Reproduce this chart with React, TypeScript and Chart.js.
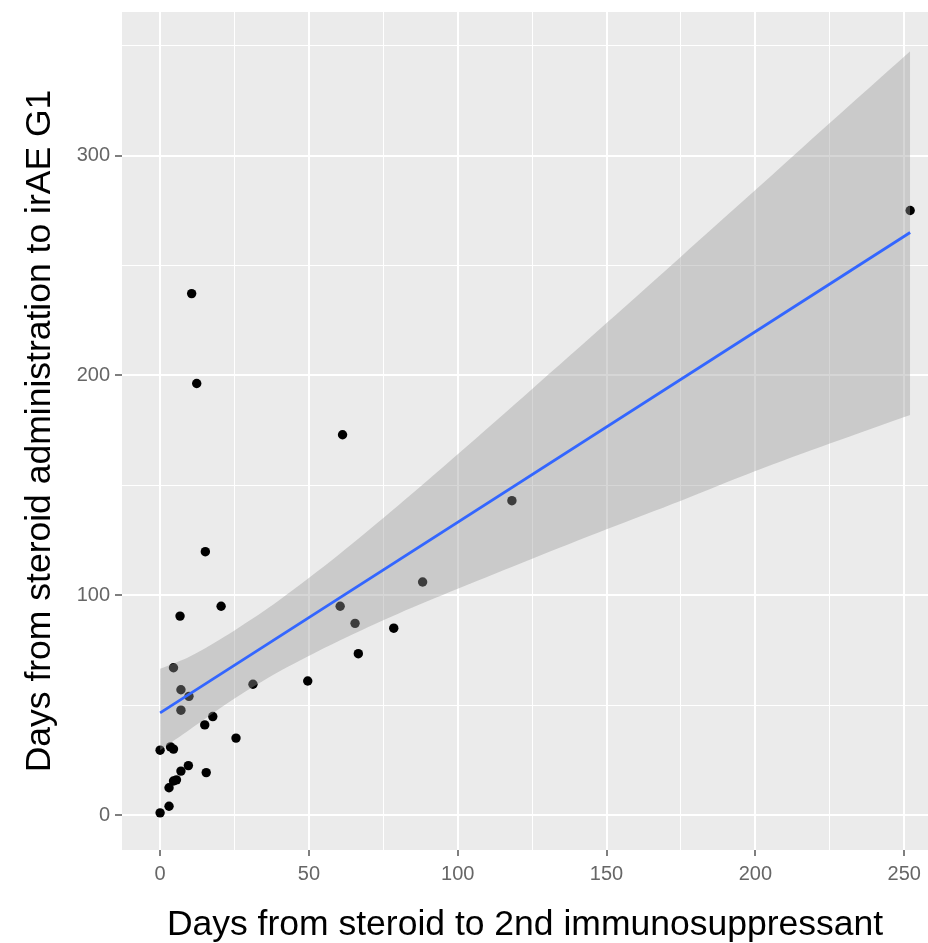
import React, { useEffect, useRef } from "react";
import { Chart, registerables } from "chart.js";

Chart.register(...registerables);

// Scatter points (days from steroid to 2nd immunosuppressant, days to irAE G1)
const pointX = [0, 3, 3, 4.5, 5.5, 7, 9.5, 15.5, 0, 3.5, 4.5, 7, 7, 9.7, 4.5, 15, 17.7, 25.5, 31.2, 49.6, 6.7, 20.5, 15.2, 60.5, 65.5, 66.6, 78.5, 88.2, 118.2, 61.3, 10.6, 12.3, 252];
const pointY = [1, 4, 12.4, 15.5, 16, 20, 22.5, 19.3, 29.5, 31, 30, 47.7, 57, 54, 67, 41, 44.8, 35, 59.5, 61, 90.5, 95, 119.8, 95, 87.2, 73.4, 85, 106, 143, 173, 237.2, 196.3, 275];

// Linear fit
const fitX = [0, 252];
const fitY = [46.5, 265];

// Confidence band
const bandX = [0, 10, 25, 40, 60, 80, 100, 125, 150, 175, 200, 225, 252];
const bandLower = [29.5, 38.9, 53, 65.3, 79.2, 91.6, 102.9, 116.6, 130, 143, 156.5, 169, 182];
const bandUpper = [66.5, 72.1, 84, 97.7, 118.4, 140.8, 164.1, 193.8, 223.8, 254, 284.3, 314.8, 347.5];

// Axes
const xMin = -12.8;
const xMax = 258;
const yMin = -15.9;
const yMax = 365.3;
const xStep = 25;
const xLabelEvery = 50;
const yStep = 50;
const yLabelEvery = 100;

const xTitle = "Days from steroid to 2nd immunosuppressant";
const yTitle = "Days from steroid administration to irAE G1";

const FONT = "'Liberation Sans', Arial, sans-serif";

const panelBg = {
  id: "panelBg",
  beforeDraw(chart: any) {
    const { ctx, chartArea } = chart;
    if (!chartArea) return;
    ctx.save();
    ctx.fillStyle = "#EBEBEB";
    ctx.fillRect(chartArea.left, chartArea.top, chartArea.right - chartArea.left, chartArea.bottom - chartArea.top);
    ctx.restore();
  },
};

const clearPadding = (s: any) => {
  s.paddingTop = 0;
  s.paddingBottom = 0;
  s.paddingLeft = 0;
  s.paddingRight = 0;
};

export default function App() {
  const ref = useRef<HTMLCanvasElement | null>(null);

  useEffect(() => {
    if (!ref.current) return;
    const zip = (xs: number[], ys: number[]) => xs.map((x, i) => ({ x, y: ys[i] }));
    const chart = new Chart(ref.current, {
      type: "scatter",
      data: {
        datasets: [
          {
            label: "fit",
            data: zip(fitX, fitY),
            showLine: true,
            borderColor: "#3366FF",
            borderWidth: 2.8,
            pointRadius: 0,
            fill: false,
            order: 0,
          } as any,
          {
            label: "lower",
            data: zip(bandX, bandLower),
            showLine: true,
            borderColor: "rgba(0,0,0,0)",
            borderWidth: 0,
            pointRadius: 0,
            fill: false,
            tension: 0.3,
            order: 1,
          } as any,
          {
            label: "upper",
            data: zip(bandX, bandUpper),
            showLine: true,
            borderColor: "rgba(0,0,0,0)",
            borderWidth: 0,
            pointRadius: 0,
            backgroundColor: "rgba(153,153,153,0.4)",
            fill: 1,
            tension: 0.3,
            order: 1,
          } as any,
          {
            label: "points",
            data: zip(pointX, pointY),
            backgroundColor: "#000000",
            borderWidth: 0,
            pointRadius: 4.7,
            order: 2,
          } as any,
        ],
      },
      options: {
        responsive: false,
        maintainAspectRatio: false,
        animation: false,
        layout: { autoPadding: false, padding: { top: 12, left: 0, right: 0, bottom: 0 } },
        plugins: {
          legend: { display: false },
          tooltip: { enabled: false },
          filler: { propagate: false },
        },
        scales: {
          x: {
            type: "linear",
            min: xMin,
            max: xMax,
            border: { display: false },
            grid: {
              color: "#FFFFFF",
              lineWidth: (c: any) => (c.tick && c.tick.value % xLabelEvery === 0 ? 2 : 1),
              tickColor: (c: any) => (c.tick && c.tick.value % xLabelEvery === 0 ? "#555555" : "rgba(0,0,0,0)"),
              tickLength: 6,
              tickWidth: 1.5,
              drawTicks: true,
            },
            ticks: {
              stepSize: xStep,
              includeBounds: false,
              autoSkip: false,
              maxRotation: 0,
              color: "#666666",
              padding: 6,
              font: { size: 20, family: FONT },
              callback: (v: any) => (Number(v) % xLabelEvery === 0 ? String(v) : ""),
            },
            title: {
              display: true,
              text: xTitle,
              color: "#000000",
              font: { size: 35.5, family: FONT, lineHeight: 1 },
              padding: { top: 0, bottom: 0 },
            },
            afterFit: (s: any) => {
              s.height = 93;
              clearPadding(s);
            },
          } as any,
          y: {
            type: "linear",
            min: yMin,
            max: yMax,
            border: { display: false },
            grid: {
              color: "#FFFFFF",
              lineWidth: (c: any) => (c.tick && c.tick.value % yLabelEvery === 0 ? 2 : 1),
              tickColor: (c: any) => (c.tick && c.tick.value % yLabelEvery === 0 ? "#555555" : "rgba(0,0,0,0)"),
              tickLength: 7,
              tickWidth: 1.5,
              drawTicks: true,
            },
            ticks: {
              stepSize: yStep,
              includeBounds: false,
              autoSkip: false,
              color: "#666666",
              padding: 5,
              font: { size: 20, family: FONT },
              callback: (v: any) => (Number(v) % yLabelEvery === 0 ? String(v) : ""),
            },
            title: {
              display: true,
              text: yTitle,
              color: "#000000",
              font: { size: 35.5, family: FONT, lineHeight: 1 },
              padding: { top: 22, bottom: 0 },
            },
            afterFit: (s: any) => {
              s.width = 122;
              clearPadding(s);
            },
          } as any,
        },
      } as any,
      plugins: [panelBg],
    });
    return () => chart.destroy();
  }, []);

  return (
    <div style={{ position: "absolute", left: 0, top: 0, width: 928, height: 943, background: "#FFFFFF" }}>
      <canvas ref={ref} width={928} height={943} style={{ display: "block" }} />
    </div>
  );
}
